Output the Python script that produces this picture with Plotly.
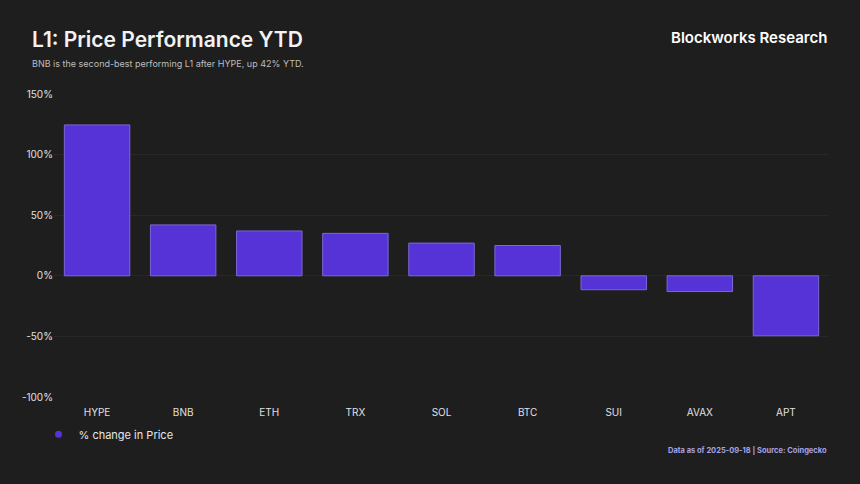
import plotly.graph_objects as go

categories = ["HYPE", "BNB", "ETH", "TRX", "SOL", "BTC", "SUI", "AVAX", "APT"]
pct_change = [124.5, 42, 37, 35, 27, 25, -11.5, -13, -49.5]
y_ticks = [-100, -50, 0, 50, 100, 150]
y_tick_labels = ["-100%", "-50%", "0%", "50%", "100%", "150%"]

BG = "#1e1e1e"
BAR = "#5533d6"

fig = go.Figure()
fig.add_trace(go.Bar(
    x=categories, y=pct_change, name="% change in Price",
    marker=dict(color=BAR, line=dict(color="#7b68d4", width=1)),
    showlegend=False,
))
# legend entry with a round marker, as in the reference
fig.add_trace(go.Scatter(
    x=[None], y=[None], mode="markers", name="% change in Price",
    marker=dict(color=BAR, size=7, symbol="circle"),
    showlegend=True,
))

fig.update_layout(
    width=860, height=484,
    paper_bgcolor=BG, plot_bgcolor=BG,
    margin=dict(l=54, r=31, t=94, b=87),
    bargap=0.24,
    font=dict(family="Inter, Roboto, sans-serif", color="#e6e6e6"),
    xaxis=dict(showgrid=False, zeroline=False, showline=False, ticks="",
               ticklabelstandoff=8,
               tickfont=dict(size=10, color="#e0e0e0")),
    yaxis=dict(range=[-100, 150], tickvals=y_ticks, ticktext=y_tick_labels,
               showgrid=True, gridcolor="#282828", gridwidth=1,
               zeroline=True, zerolinecolor="#282828", zerolinewidth=1,
               showline=False, ticks="", tickfont=dict(size=10, color="#e0e0e0")),
    legend=dict(orientation="h", x=-0.02, y=-0.075, xanchor="left", yanchor="top",
                font=dict(size=11, color="#e6e6e6"), bgcolor="rgba(0,0,0,0)",
                itemwidth=30),
    annotations=[
        dict(text="L1: Price Performance YTD", xref="paper", yref="paper",
             x=-0.031, y=1.18, xanchor="left", yanchor="middle", showarrow=False,
             font=dict(size=21, color="#f2f2f2", family="Inter, sans-serif", weight=600)),
        dict(text="BNB is the second-best performing L1 after HYPE, up 42% YTD.",
             xref="paper", yref="paper", x=-0.031, y=1.102, xanchor="left", yanchor="middle",
             showarrow=False, font=dict(size=9, color="#bdbdbd")),
        dict(text="Blockworks Research", xref="paper", yref="paper",
             x=1.0, y=1.185, xanchor="right", yanchor="middle", showarrow=False,
             font=dict(size=15, color="#ffffff", family="Inter, sans-serif", weight=600)),
        dict(text="<b>Data as of 2025-09-18 | Source: Coingecko</b>", xref="paper", yref="paper",
             x=1.0, y=-0.178, xanchor="right", yanchor="middle", showarrow=False,
             font=dict(size=7.5, color="#a8a2e6")),
    ],
)

fig.write_html("out.html")
